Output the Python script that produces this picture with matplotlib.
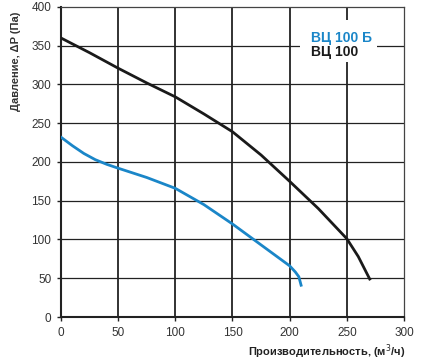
import matplotlib
matplotlib.use("Agg")
import matplotlib.pyplot as plt
from matplotlib.patches import Rectangle

plt.rcParams['font.family'] = ['Liberation Sans', 'DejaVu Sans']

# ВЦ 100 (black curve)
q_100 = [0, 25, 50, 75, 100, 125, 150, 175, 200, 225, 250, 260, 270]
p_100 = [360, 341, 321, 302, 284, 262, 239, 209, 175, 140, 101, 78, 49]

# ВЦ 100 Б (blue curve)
q_100b = [0, 10, 20, 30, 40, 50, 75, 100, 125, 150, 175, 200, 205, 208, 210]
p_100b = [232, 221, 211, 203, 197, 192, 180, 166, 145, 120, 93, 66, 58, 52, 41]

xticks = [0, 50, 100, 150, 200, 250, 300]
yticks = [0, 50, 100, 150, 200, 250, 300, 350, 400]

blue = "#1a86c8"

fig = plt.figure(figsize=(4.25, 3.62), dpi=100)
ax = fig.add_axes([0.1435, 0.1243, 0.8071, 0.8564])

for x in xticks[1:-1]:
    ax.axvline(x, color="#222222", lw=1.3, zorder=1)
for y in yticks[1:-1]:
    ax.axhline(y, color="#222222", lw=0.9, zorder=1)

ax.plot(q_100, p_100, color="#1a1a1a", lw=2.0, zorder=3)
ax.plot(q_100b, p_100b, color=blue, lw=2.0, zorder=3)

ax.set_xlim(0, 300)
ax.set_ylim(0, 400)
ax.set_xticks(xticks)
ax.set_yticks(yticks)
ax.tick_params(labelsize=8.5, labelcolor="#333333", length=3, width=1, color="#222222", pad=4)

for s in ["left", "bottom"]:
    ax.spines[s].set_linewidth(1.5)
    ax.spines[s].set_color("#222222")
for s in ["top", "right"]:
    ax.spines[s].set_linewidth(0.9)
    ax.spines[s].set_color("#444444")

# legend block: white patch over the grid, two coloured labels
ax.add_patch(Rectangle((209, 329), 67, 54, facecolor="white", edgecolor="none", zorder=2))
ax.text(219, 360, "ВЦ 100 Б", color=blue, fontsize=10, fontweight="bold",
        ha="left", va="center", zorder=4)
ax.text(219, 342, "ВЦ 100", color="#1a1a1a", fontsize=10, fontweight="bold",
        ha="left", va="center", zorder=4)

fig.text(0.037, 0.83, "Давление, ΔP (Па)", rotation=90, fontsize=8,
         fontweight="bold", color="#333333", ha="center", va="center")
fig.text(0.953, 0.028, "Производительность, (м$^3$/ч)", fontsize=8,
         fontweight="bold", color="#222222", ha="right", va="center")

fig.savefig("out.png", dpi=100)
